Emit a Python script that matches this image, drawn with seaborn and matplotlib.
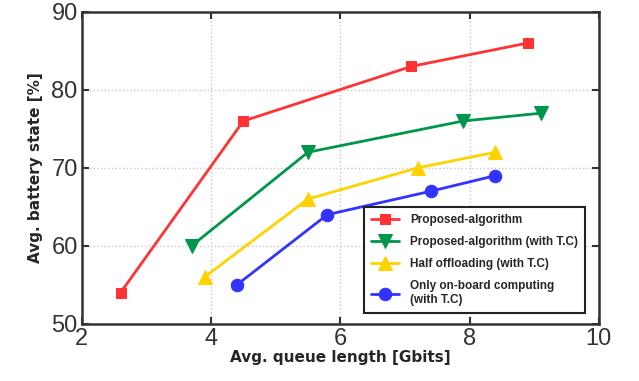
import numpy as np
import pandas as pd
import seaborn as sb
from matplotlib import pyplot as plt

# data
labels = ['Proposed-algorithm', 'Proposed-algorithm (with T.C)',
          'Half offloading (with T.C)', 'Only on-board computing\n(with T.C)']
x_prop = [2.6, 4.5, 7.1, 8.9]
y_prop = [54, 76, 83, 86]
x_prop_tc = [3.7, 5.5, 7.9, 9.1]
y_prop_tc = [60, 72, 76, 77]
x_half = [3.9, 5.5, 7.2, 8.4]
y_half = [56, 66, 70, 72]
x_onboard = [4.4, 5.8, 7.4, 8.4]
y_onboard = [55, 64, 67, 69]

colors = ['#FF3333', '#00964B', '#FFD200', '#3333FF']
markers = ['s', 'v', '^', 'o']
sizes = [7, 10, 10, 9]

rows = []
for lab, xs, ys in zip(labels, [x_prop, x_prop_tc, x_half, x_onboard],
                       [y_prop, y_prop_tc, y_half, y_onboard]):
    for x, y in zip(xs, ys):
        rows.append({'series': lab, 'x': x, 'y': y})
df = pd.DataFrame(rows)

sb.set_style('white')
plt.rcParams['font.family'] = ['Liberation Sans', 'DejaVu Sans']

fig = plt.figure(figsize=(6.39, 3.81), dpi=100)
ax = fig.add_axes([0.128, 0.150, 0.809, 0.819])

for lab, c, m, s in zip(labels, colors, markers, sizes):
    sub = df[df.series == lab]
    sb.lineplot(data=sub, x='x', y='y', ax=ax, color=c, marker=m, markersize=s,
                markeredgecolor=c, linewidth=2, label=lab, sort=False)

ax.set_xlim(2, 10)
ax.set_ylim(50, 90)
ax.set_xticks([2, 4, 6, 8, 10])
ax.set_yticks([50, 60, 70, 80, 90])
ax.grid(True, linestyle=':', color='#C8C8C8', linewidth=1)
ax.tick_params(direction='in', length=5, width=1.5, labelsize=17, colors='#333333',
               top=True, right=True, bottom=True, left=True, pad=3)
for sp in ax.spines.values():
    sp.set_linewidth(1.8)
    sp.set_color('#333333')

ax.set_xlabel('Avg. queue length [Gbits]', fontsize=11, fontweight='bold',
              family='DejaVu Sans', labelpad=0)
ax.set_ylabel('Avg. battery state [%]', fontsize=11, fontweight='bold',
              family='DejaVu Sans', labelpad=6)

leg = ax.legend(loc='lower right', bbox_to_anchor=(0.985, 0.015), frameon=True,
                fancybox=False, edgecolor='#222222', framealpha=1,
                prop={'family': 'Liberation Sans', 'weight': 'bold', 'size': 8.5},
                handlelength=2.4, handletextpad=0.9, labelspacing=0.85, borderpad=0.6)
leg.get_frame().set_linewidth(1.5)

plt.savefig('out.png', dpi=100)
